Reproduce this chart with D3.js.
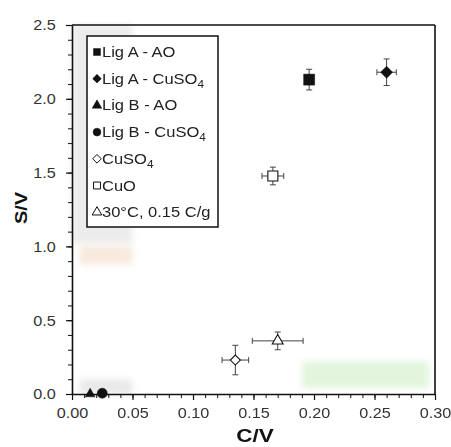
<!DOCTYPE html>
<html>
<head>
<meta charset="utf-8">
<script src="https://cdnjs.cloudflare.com/ajax/libs/d3/7.8.5/d3.min.js"></script>
<style>
  body { margin: 0; background: #fff; }
  svg { display: block; }
  text { font-family: "Liberation Sans", Arial, sans-serif; }
</style>
</head>
<body>
<svg></svg>
<script>
// series data (x = C/V, y = S/V)
const series   = ["Lig A - AO", "Lig A - CuSO4", "Lig B - AO", "Lig B - CuSO4", "CuSO4", "CuO", "30°C, 0.15 C/g"];
const cvValues = [0.196, 0.260, 0.015, 0.025, 0.135, 0.166, 0.170];
const svValues = [2.13, 2.18, 0.0, 0.005, 0.23, 1.477, 0.36];
const cvErrors = [0, 0.008, 0, 0, 0.011, 0.009, 0.021];
const svErrors = [0.07, 0.09, 0, 0, 0.10, 0.06, 0.06];
const markers  = ["square", "diamond", "triangle", "circle", "diamond", "square", "triangle"];
const filled   = [true, true, true, true, false, false, false];

const xTicks = [0, 0.05, 0.10, 0.15, 0.20, 0.25, 0.30];
const yTicks = [0, 0.5, 1.0, 1.5, 2.0, 2.5];

// faint colour patches in the background of the original image
const patchX0 = [0, 0.006, 0.006, 0.19];
const patchX1 = [0.05, 0.05, 0.05, 0.295];
const patchY0 = [1.02, 0.88, 0.0, 0.04];
const patchY1 = [2.5, 1.0, 0.1, 0.22];
const patchColor = ["#e6e6e6", "#f6e2d0", "#e2e2e2", "#d8f3d2"];

let width = 451;
let height = 447;
const svg = d3.select("svg").attr("width", width).attr("height", height);

let x = d3.scaleLinear().domain([0, 0.3]).range([72, 435]);
let y = d3.scaleLinear().domain([0, 2.5]).range([394, 25]);

svg.append("defs").append("filter")
    .attr("id", "soft")
    .attr("x", "-20%").attr("y", "-20%").attr("width", "140%").attr("height", "140%")
    .append("feGaussianBlur").attr("stdDeviation", 3);

// background patches
svg.append("g").attr("filter", "url(#soft)").selectAll("rect")
    .data(patchX0)
    .enter()
    .append("rect")
    .attr("x", (d, i) => x(patchX0[i]))
    .attr("y", (d, i) => y(patchY1[i]))
    .attr("width", (d, i) => x(patchX1[i]) - x(patchX0[i]))
    .attr("height", (d, i) => y(patchY0[i]) - y(patchY1[i]))
    .style("fill", (d, i) => patchColor[i])
    .style("opacity", 0.75);

// frame top and right
svg.append("line").attr("x1", x(0)).attr("x2", x(0.3)).attr("y1", y(2.5)).attr("y2", y(2.5))
    .style("stroke", "#111").style("stroke-width", 1.6);
svg.append("line").attr("x1", x(0.3)).attr("x2", x(0.3)).attr("y1", y(2.5)).attr("y2", y(0))
    .style("stroke", "#111").style("stroke-width", 1.6);

// minor ticks
svg.append("g").attr("transform", "translate(0," + y(0) + ")")
    .call(d3.axisBottom(x).tickValues(d3.range(0, 0.3001, 0.01)).tickSize(4).tickFormat(""))
    .call(g => g.select(".domain").remove());
svg.append("g").attr("transform", "translate(" + x(0) + ",0)")
    .call(d3.axisLeft(y).tickValues(d3.range(0, 2.5001, 0.1)).tickSize(4).tickFormat(""))
    .call(g => g.select(".domain").remove());

// major axes
let xAxis = svg.append("g").attr("transform", "translate(0," + y(0) + ")")
    .call(d3.axisBottom(x).tickValues(xTicks).tickSize(6).tickSizeOuter(0).tickFormat(d3.format(".2f")));
let yAxis = svg.append("g").attr("transform", "translate(" + x(0) + ",0)")
    .call(d3.axisLeft(y).tickValues(yTicks).tickSize(6).tickSizeOuter(0).tickFormat(d3.format(".1f")));

[xAxis, yAxis].forEach(function (a) {
    a.select(".domain").style("stroke", "#111").style("stroke-width", 1.6);
    a.selectAll("line").style("stroke", "#111").style("stroke-width", 1.2);
    a.selectAll("text")
        .style("font-family", "Liberation Sans, Arial, sans-serif")
        .style("font-size", "15px")
        .style("fill", "#333");
});
svg.selectAll("g line").style("stroke", "#111");
xAxis.selectAll("text").attr("y", 13).attr("transform", "scale(1.08,1)");
yAxis.selectAll("text").attr("x", -15).attr("transform", "scale(1.08,1)");

// axis titles
svg.append("text")
    .attr("transform", "translate(255,442) scale(1.25,1)")
    .attr("text-anchor", "middle")
    .style("font-weight", "bold").style("font-size", "18px").style("fill", "#111")
    .text("C/V");
svg.append("text")
    .attr("transform", "translate(27,208) rotate(-90) scale(1.25,1)")
    .attr("text-anchor", "middle")
    .style("font-weight", "bold").style("font-size", "16px").style("fill", "#111")
    .text("S/V");

// symbols
let symbolType = {
    square: d3.symbolSquare,
    diamond: d3.symbolDiamond2,
    triangle: d3.symbolTriangle,
    circle: d3.symbolCircle
};
let plotSize = function (i) {
    let m = markers[i];
    if (m == "square") return filled[i] ? 121 : 100;
    if (m == "diamond") return filled[i] ? 92 : 64;
    if (m == "triangle") return filled[i] ? 42 : 52;
    return 80;
};

let idx = d3.range(series.length);

// error bars
let eb = svg.append("g").style("stroke", "#444").style("stroke-width", 1);
idx.forEach(function (i) {
    let cx = x(cvValues[i]), cy = y(svValues[i]);
    if (svErrors[i] > 0) {
        let y1 = y(svValues[i] + svErrors[i]), y2 = y(svValues[i] - svErrors[i]);
        eb.append("line").attr("x1", cx).attr("x2", cx).attr("y1", y1).attr("y2", y2);
        eb.append("line").attr("x1", cx - 3).attr("x2", cx + 3).attr("y1", y1).attr("y2", y1);
        eb.append("line").attr("x1", cx - 3).attr("x2", cx + 3).attr("y1", y2).attr("y2", y2);
    }
    if (cvErrors[i] > 0) {
        let x1 = x(cvValues[i] - cvErrors[i]), x2 = x(cvValues[i] + cvErrors[i]);
        eb.append("line").attr("x1", x1).attr("x2", x2).attr("y1", cy).attr("y2", cy);
        eb.append("line").attr("x1", x1).attr("x2", x1).attr("y1", cy - 3).attr("y2", cy + 3);
        eb.append("line").attr("x1", x2).attr("x2", x2).attr("y1", cy - 3).attr("y2", cy + 3);
    }
});

// points
svg.append("g").selectAll("path")
    .data(idx)
    .enter()
    .append("path")
    .attr("transform", i => "translate(" + x(cvValues[i]) + "," + y(svValues[i]) + ")")
    .attr("d", i => d3.symbol().type(symbolType[markers[i]]).size(plotSize(i))())
    .style("fill", i => filled[i] ? "#111" : "#fff")
    .style("stroke", "#111")
    .style("stroke-width", i => filled[i] ? 0.5 : 1.1);

// legend
let legend = svg.append("g");
legend.append("rect")
    .attr("x", 87).attr("y", 36).attr("width", 131).attr("height", 191)
    .style("fill", "#fff").style("stroke", "#111").style("stroke-width", 1.5);

let rows = legend.selectAll("g.row")
    .data(idx)
    .enter()
    .append("g")
    .attr("class", "row")
    .attr("transform", i => "translate(97," + (52 + i * 26.7) + ")");

rows.append("path")
    .attr("d", i => d3.symbol().type(symbolType[markers[i]]).size(markers[i] == "triangle" ? 40 : 48)())
    .style("fill", i => filled[i] ? "#111" : "#fff")
    .style("stroke", "#111")
    .style("stroke-width", i => filled[i] ? 0.5 : 1);

rows.append("text")
    .attr("transform", "translate(5,5) scale(1.18,1)")
    .style("font-size", "14px")
    .style("fill", "#222")
    .each(function (i) {
        let t = d3.select(this);
        let label = series[i];
        let k = label.indexOf("SO4");
        if (k >= 0) {
            t.append("tspan").text(label.slice(0, k + 2));
            t.append("tspan").attr("dy", 4).style("font-size", "10px").text("4");
        } else {
            t.text(label);
        }
    });
</script>
</body>
</html>
